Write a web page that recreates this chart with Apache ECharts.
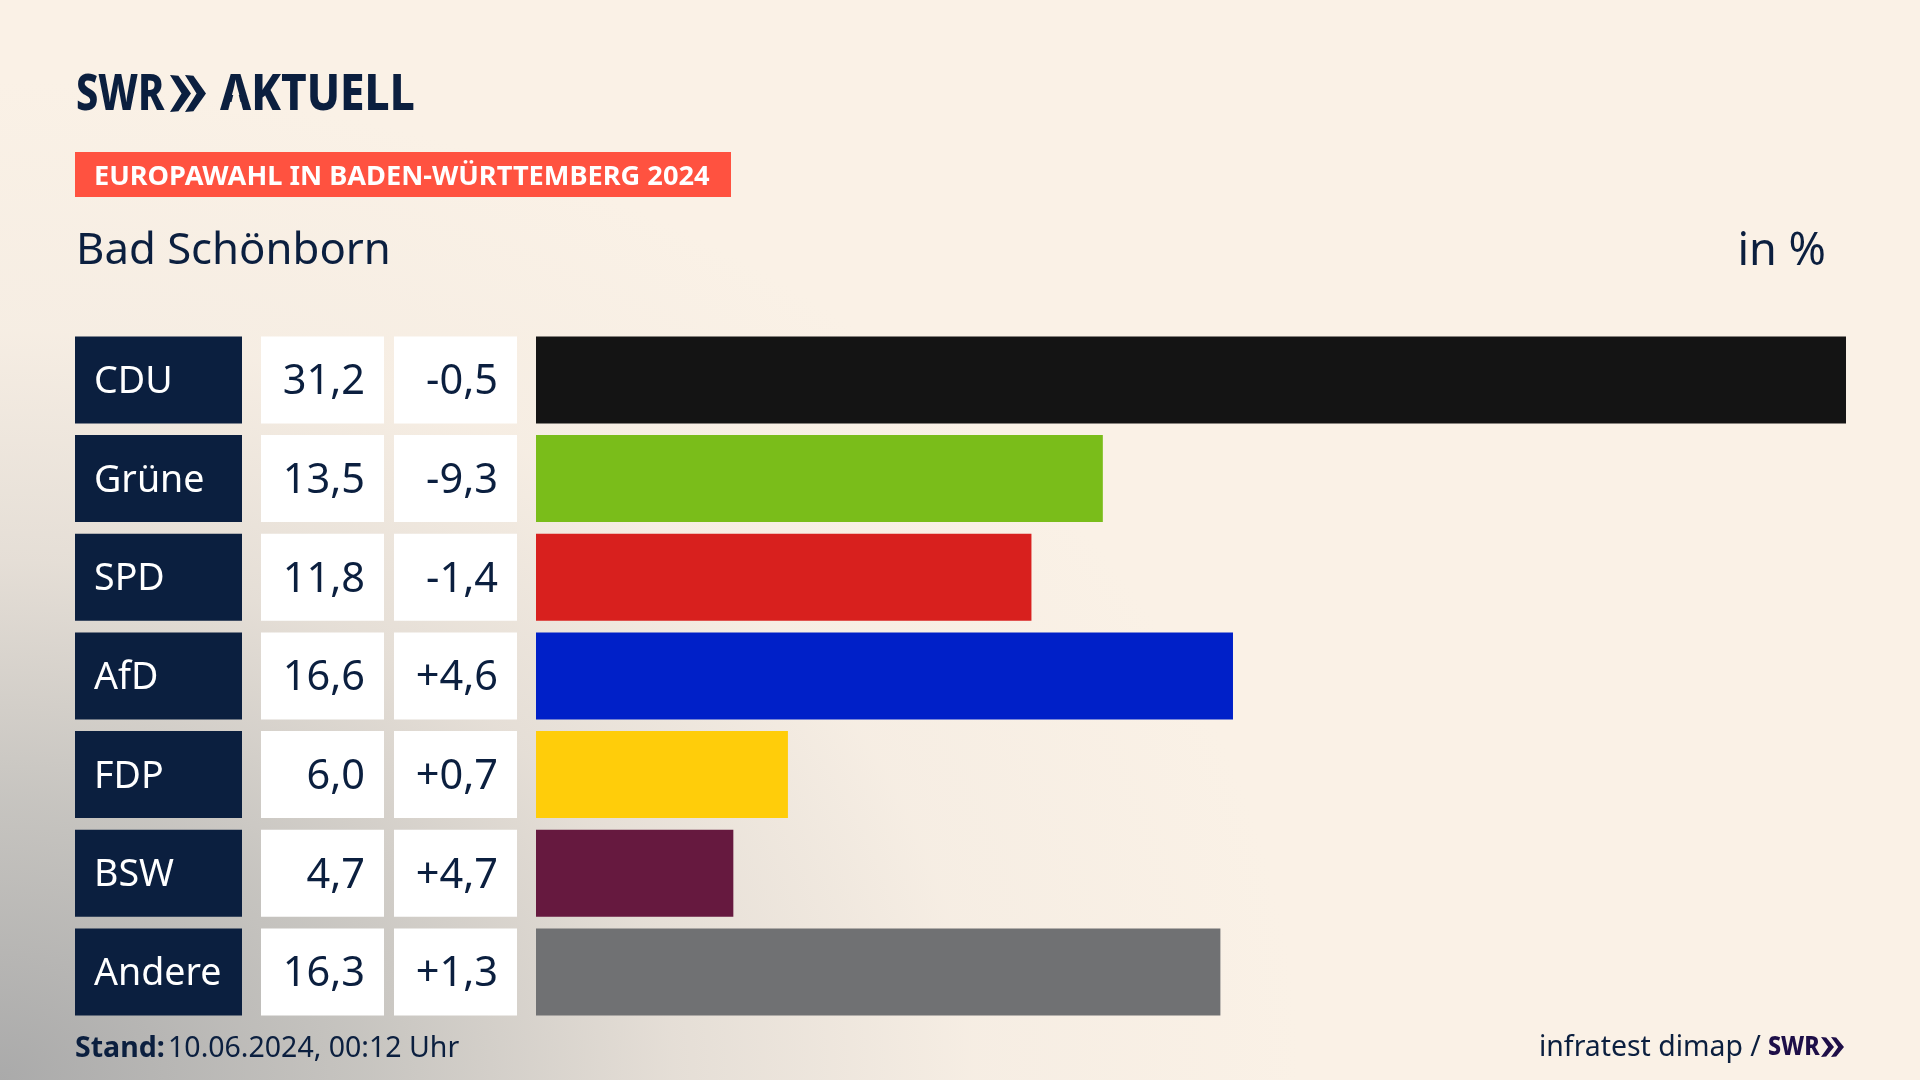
<!DOCTYPE html>
<html lang="de">
<head>
<meta charset="utf-8">
<title>Europawahl in Baden-Württemberg 2024 – Bad Schönborn</title>
<script src="https://cdn.jsdelivr.net/npm/echarts@6/dist/echarts.min.js"></script>
<style>
html,body{margin:0;padding:0;width:1920px;height:1080px;overflow:hidden;}
body{background:
 radial-gradient(ellipse 1300px 1000px at 0 100%, rgba(170,170,170,1) 0%, rgba(196,194,190,.95) 28%, rgba(222,216,209,.75) 52%, rgba(240,232,223,.4) 75%, rgba(250,241,230,0) 100%),
 #faf1e6;}
#chart{width:1920px;height:1080px;}
</style>
</head>
<body>
<div id="chart"></div>
<script>
const parties = ['CDU','Grüne','SPD','AfD','FDP','BSW','Andere'];
const shares = [31.2,13.5,11.8,16.6,6.0,4.7,16.3];
const shareLabels = ['31,2','13,5','11,8','16,6','6,0','4,7','16,3'];
const changeLabels = ['-0,5','-9,3','-1,4','+4,6','+0,7','+4,7','+1,3'];
const partyColors = ['#141414','#7abd1a','#d8201e','#0020c8','#ffcd0a','#66193f','#707173'];
const headline = 'EUROPAWAHL IN BADEN-WÜRTTEMBERG 2024';
const place = 'Bad Schönborn';
const unit = 'in %';
const stamp = '10.06.2024, 00:12 Uhr';
const source = 'infratest dimap /';

const NAVY = '#0b1f3f', FONT = '"Noto Sans", sans-serif';
const GRID_LEFT = 536, CELL_RATIO = 87 / 98.67;

function chevrons(x, y, w, h, gap, color) {
  return [0, 1].map(i => ({
    type: 'polygon', silent: true,
    shape: { points: [[x + i * gap, y], [x + i * gap + w * .4, y + h * .02], [x + i * gap + w, y + h / 2], [x + i * gap + w * .4, y + h * .98], [x + i * gap, y + h], [x + i * gap + w * .55, y + h / 2]] },
    style: { fill: color }
  }));
}
function logoText(text, x, y, size, scaleX, color) {
  return { type: 'text', silent: true, x, y, scaleX,
    style: { text, font: `800 ${size}px ${FONT}`, fill: color, verticalAlign: 'middle' } };
}

const chart = echarts.init(document.getElementById('chart'), null, { renderer: 'canvas', width: 1920, height: 1080 });

function renderRow(params, api) {
  const i = api.value(0);
  const cy = api.coord([0, i])[1];
  const h = api.size([0, 1])[1] * CELL_RATIO;
  const top = cy - h / 2;
  const cell = (x, w, fill) => ({ type: 'rect', silent: true, shape: { x, y: top, width: w, height: h }, style: { fill } });
  const txt = (s, x, size, align, fill) => ({ type: 'text', silent: true, x, y: cy + 2.5,
    style: { text: s, font: `400 ${size}px ${FONT}`, fill, align, verticalAlign: 'middle' } });
  return { type: 'group', children: [
    cell(75, 167, NAVY), cell(261, 123, '#ffffff'), cell(394, 123, '#ffffff'),
    txt(parties[i], 94, 37.6, 'left', '#ffffff'),
    txt(shareLabels[i], 365, 41.5, 'right', NAVY),
    txt(changeLabels[i], 498, 41.5, 'right', NAVY)
  ]};
}

chart.setOption({
  animation: false,
  backgroundColor: 'transparent',
  title: [
    { text: place, left: 76, top: 230, padding: 0, textStyle: { fontFamily: FONT, fontWeight: 400, fontSize: 43.7, color: NAVY } },
    { text: unit, right: 94, top: 230, padding: 0, textStyle: { fontFamily: FONT, fontWeight: 400, fontSize: 45, color: NAVY } }
  ],
  grid: { left: GRID_LEFT, width: 1310, top: 330.6, height: 690.7 },
  xAxis: { type: 'value', min: 0, max: 31.2, show: false },
  yAxis: { type: 'category', inverse: true, data: parties, show: false },
  series: [
    { type: 'bar', silent: true, barWidth: 87,
      data: shares.map((v, i) => ({ value: v, itemStyle: { color: partyColors[i] } })) },
    { type: 'custom', silent: true, clip: false, renderItem: renderRow,
      encode: { y: 0 }, data: parties.map((_, i) => [i]) }
  ],
  graphic: [
    logoText('SWR', 76, 96, 49, .81, NAVY),
    ...chevrons(170, 75, 21, 37, 15, NAVY),
    logoText('AKTUELL', 220, 96, 49, .90, NAVY),
    { type: 'polygon', silent: true, shape: { points: [[234, 92], [238, 92], [243.5, 114], [228.5, 114]] }, style: { fill: '#faf1e6' } },
    { type: 'rect', silent: true, shape: { x: 75, y: 152, width: 656, height: 45 }, style: { fill: '#ff5240' } },
    { type: 'text', silent: true, x: 94, y: 177, style: { text: headline, font: `700 27.2px ${FONT}`, fill: '#ffffff', verticalAlign: 'middle' } },
    { type: 'text', silent: true, x: 75, y: 1049, style: { rich: {
        b: { font: `700 28.5px ${FONT}`, fill: NAVY }, r: { font: `400 28.5px ${FONT}`, fill: NAVY } },
        text: '{b|Stand:} {r|' + stamp + '}', verticalAlign: 'middle' } },
    { type: 'text', silent: true, x: 1539, y: 1048, style: { text: source, font: `400 28.4px ${FONT}`, fill: NAVY, verticalAlign: 'middle' } },
    logoText('SWR', 1768, 1047, 27, .86, '#1e0f48'),
    ...chevrons(1821, 1037, 13, 20, 10, '#1e0f48')
  ]
});
</script>
</body>
</html>
